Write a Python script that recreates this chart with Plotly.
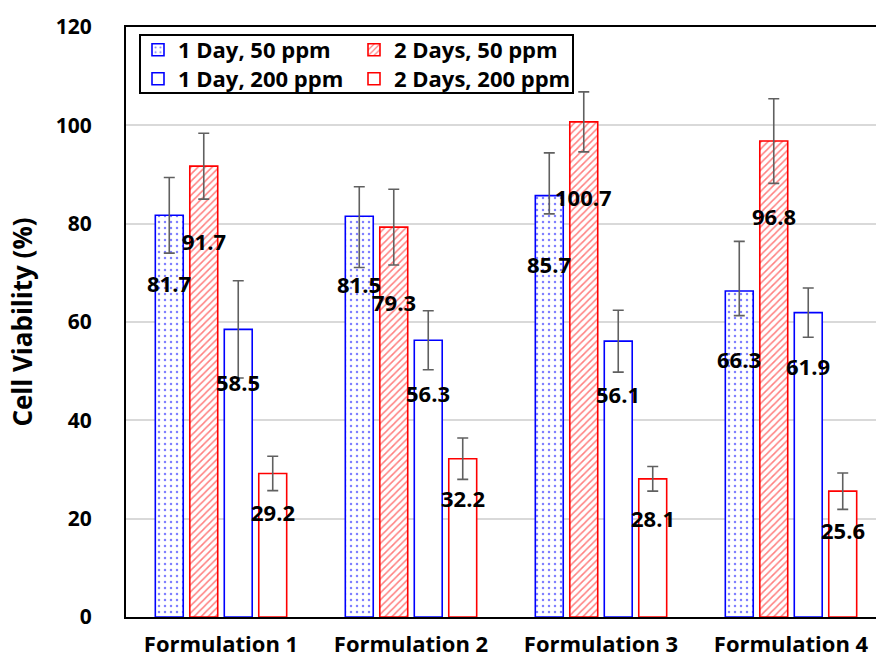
import plotly.graph_objects as go

categories = ["Formulation 1", "Formulation 2", "Formulation 3", "Formulation 4"]
series_names = ["1 Day, 50 ppm", "2 Days, 50 ppm", "1 Day, 200 ppm", "2 Days, 200 ppm"]

day1_50 = [81.7, 81.5, 85.7, 66.3]
day2_50 = [91.7, 79.3, 100.7, 96.8]
day1_200 = [58.5, 56.3, 56.1, 61.9]
day2_200 = [29.2, 32.2, 28.1, 25.6]

err_day1_50_plus = [7.7, 6.0, 8.7, 10.1]
err_day1_50_minus = [7.7, 10.4, 3.7, 5.0]
err_day2_50 = [6.7, 7.7, 6.1, 8.6]
err_day1_200 = [9.9, 6.0, 6.3, 5.0]
err_day2_200 = [3.5, 4.2, 2.5, 3.7]

y_ticks = [0, 20, 40, 60, 80, 100, 120]

FONT = "Open Sans"
W, H = 876, 661
ML, MR, MT, MB = 126, 0, 27, 44
PX_PER_CAT = 190.0
plot_w = W - ML - MR
plot_h = H - MT - MB
x_max = -0.5 + plot_w / PX_PER_CAT
BARGAP = 0.274
BARGROUPGAP = 0.19

BLUE = "#0000ff"
RED = "#ff0000"
ERR = "#606060"


def px_x(px):
    return (px - ML) / plot_w


def px_y(py):
    return 1 - (py - MT) / plot_h


series = [
    dict(name=series_names[0], y=day1_50, plus=err_day1_50_plus, minus=err_day1_50_minus,
         line=BLUE, pattern=dict(shape=".", fgcolor=BLUE, bgcolor="white", size=6, solidity=0.14),
         legend="legend", label_shift=-68, leg_pos=(138, 29)),
    dict(name=series_names[1], y=day2_50, plus=err_day2_50, minus=err_day2_50,
         line=RED, pattern=dict(shape="/", fgcolor=RED, bgcolor="white", size=5, solidity=0.3),
         legend="legend2", label_shift=-75, leg_pos=(354, 29)),
    dict(name=series_names[2], y=day1_200, plus=err_day1_200, minus=err_day1_200,
         line=BLUE, pattern=None, legend="legend3", label_shift=-53, leg_pos=(138, 58)),
    dict(name=series_names[3], y=day2_200, plus=err_day2_200, minus=err_day2_200,
         line=RED, pattern=None, legend="legend4", label_shift=-39, leg_pos=(354, 58)),
]

fig = go.Figure()
for s in series:
    marker = dict(color="white", line=dict(color=s["line"], width=1.6))
    if s["pattern"]:
        marker["pattern"] = s["pattern"]
    fig.add_trace(go.Bar(
        x=categories, y=s["y"], name=s["name"], marker=marker,
        legend=s["legend"],
        error_y=dict(type="data", symmetric=False, array=s["plus"], arrayminus=s["minus"],
                     color=ERR, thickness=1.6, width=5.5),
    ))

slot_px = (1 - BARGAP) / 4 * PX_PER_CAT
annotations = []
for i, s in enumerate(series):
    for c, v in zip(categories, s["y"]):
        annotations.append(dict(
            x=c, y=v, xref="x", yref="y", text=f"{v:.1f}", showarrow=False,
            xshift=(i - 1.5) * slot_px, yshift=s["label_shift"],
            font=dict(family=FONT, size=22, color="black", weight="bold"),
        ))

legend_font = dict(family=FONT, size=22, color="black", weight="bold")
legends = {}
for s in series:
    lx, ly = s["leg_pos"]
    legends[s["legend"]] = dict(
        x=px_x(lx), y=px_y(ly), xanchor="left", yanchor="top",
        orientation="v", bgcolor="rgba(0,0,0,0)", borderwidth=0, font=legend_font,
        tracegroupgap=0, itemwidth=30,
    )

fig.update_layout(
    width=W, height=H,
    margin=dict(l=ML, r=MR, t=MT, b=MB, autoexpand=False),
    paper_bgcolor="white", plot_bgcolor="white",
    barmode="group", bargap=BARGAP, bargroupgap=BARGROUPGAP,
    font=dict(family=FONT, color="black"),
    showlegend=True,
    annotations=annotations,
    shapes=[dict(type="rect", xref="paper", yref="paper",
                 x0=px_x(140), x1=px_x(573), y0=px_y(93), y1=px_y(35),
                 line=dict(color="black", width=2), fillcolor="rgba(0,0,0,0)", layer="above")],
    xaxis=dict(
        range=[-0.5, x_max], showline=True, linecolor="black", linewidth=2, mirror=True,
        ticks="", ticklabelstandoff=7, automargin=False,
        tickfont=dict(family=FONT, size=22, color="black", weight="bold"),
        showgrid=False, zeroline=False,
    ),
    yaxis=dict(
        range=[0, 120], tickvals=y_ticks, showline=True, linecolor="black", linewidth=2,
        mirror=False, ticks="", ticklabelstandoff=28, automargin=False,
        tickfont=dict(family=FONT, size=21, color="black", weight="bold"),
        showgrid=True, gridcolor="#d9d9d9", gridwidth=1.5, zeroline=False,
        title=dict(text="Cell Viability (%)", standoff=16,
                   font=dict(family=FONT, size=26, color="black", weight="bold")),
    ),
    **legends,
)

fig.write_html("out.html")
